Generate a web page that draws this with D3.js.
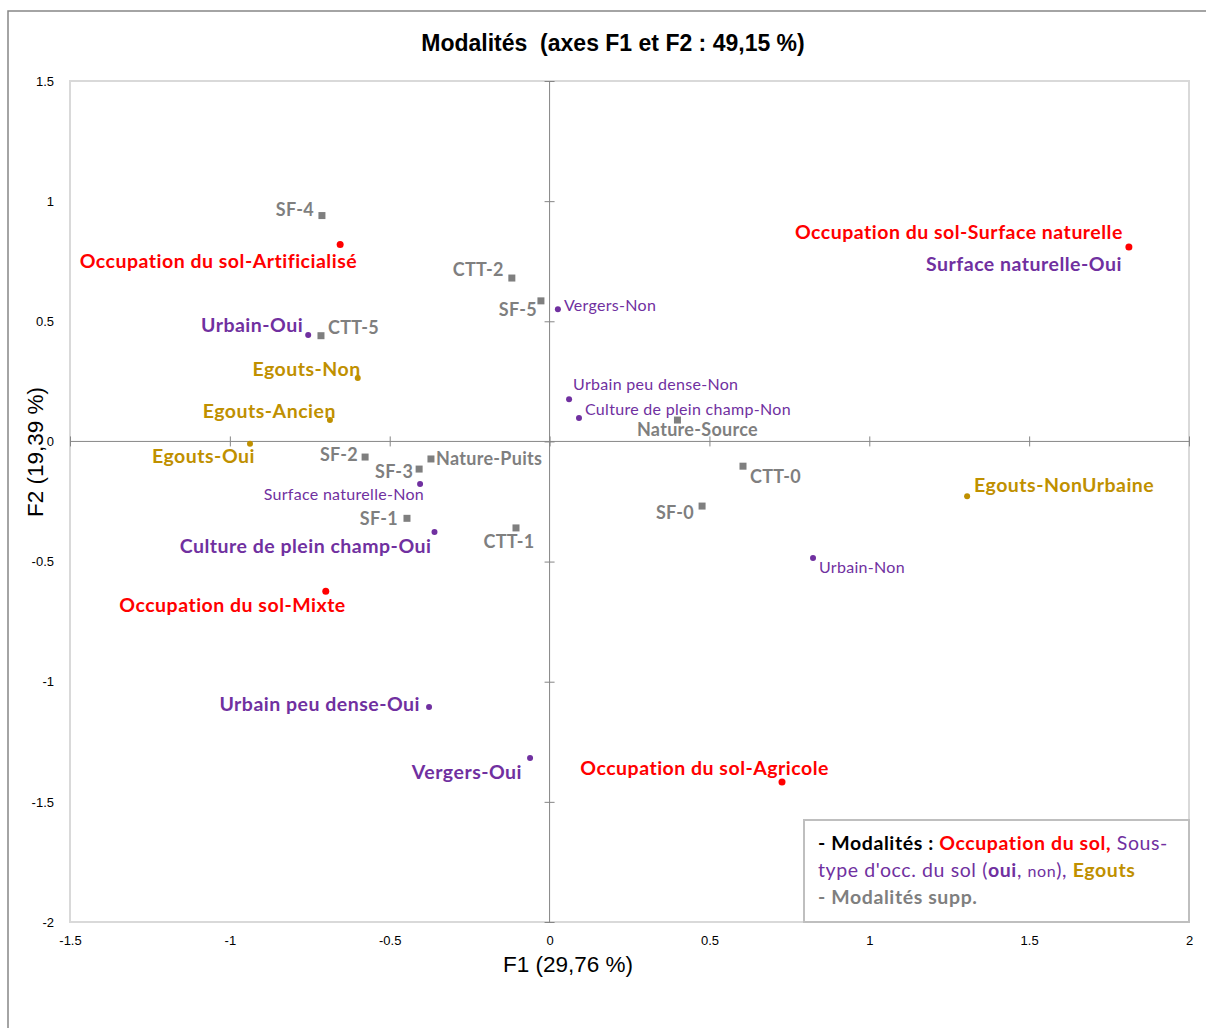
<!DOCTYPE html>
<html>
<head>
<meta charset="utf-8">
<script src="https://cdn.jsdelivr.net/npm/d3@7"></script>
<style>
  body { margin: 0; background: #fff; }
  svg { display: block; }
</style>
</head>
<body>
<svg id="chart" width="1206" height="1028"></svg>
<script>
// ---- data ----
const labels = [
  "SF-4", "Occupation du sol-Artificialisé", "CTT-2", "SF-5", "Vergers-Non",
  "Urbain-Oui", "CTT-5", "Egouts-Non", "Egouts-Ancien", "Egouts-Oui",
  "SF-2", "Nature-Puits", "SF-3", "Surface naturelle-Non", "SF-1",
  "Culture de plein champ-Oui", "CTT-1", "Occupation du sol-Mixte", "Urbain peu dense-Oui", "Vergers-Oui",
  "Occupation du sol-Agricole", "Urbain peu dense-Non", "Culture de plein champ-Non", "Nature-Source", "CTT-0",
  "SF-0", "Urbain-Non", "Egouts-NonUrbaine", "Occupation du sol-Surface naturelle", "Surface naturelle-Oui"
];
const f1 = [
  -0.712, -0.655, -0.118, -0.027, 0.026,
  -0.755, -0.715, -0.600, -0.687, -0.937,
  -0.577, -0.371, -0.408, -0.405, -0.446,
  -0.360, -0.105, -0.700, -0.377, -0.061,
  0.727, 0.061, 0.092, 0.400, 0.605,
  0.477, 0.824, 1.306, 1.812, 1.812
];
const f2 = [
  0.940, 0.820, 0.680, 0.585, 0.550,
  0.443, 0.440, 0.264, 0.089, -0.010,
  -0.065, -0.073, -0.115, -0.177, -0.320,
  -0.377, -0.360, -0.623, -1.105, -1.317,
  -1.417, 0.176, 0.097, 0.089, -0.103,
  -0.269, -0.485, -0.228, 0.809, 0.809
];
// group: occ = Occupation du sol, oui / non = sous-type, egout = Egouts, supp = modalités supp.
const groups = [
  "supp", "occ", "supp", "supp", "non",
  "oui", "supp", "egout", "egout", "egout",
  "supp", "supp", "supp", "non", "supp",
  "oui", "supp", "occ", "oui", "oui",
  "occ", "non", "non", "supp", "supp",
  "supp", "non", "egout", "occ", "oui"
];
// label placement relative to its point: [anchor, dx, dy]
const labelPlacement = [
  ["end", -8, -6], ["end", 17, 17], ["end", -8, -8], ["end", -4, 9], ["start", 6, -4],
  ["end", -5, -10], ["start", 7, -8], ["end", 3, -9], ["end", 6, -9], ["end", 5, 12],
  ["end", -7, -2], ["start", 5, 0], ["end", -6, 3], ["end", 4, 10], ["end", -9, 0],
  ["end", -3, 14], ["middle", -7, 14], ["end", 20, 14], ["end", -9, -3], ["end", -8, 14],
  ["end", 47, -14], ["start", 4, -15], ["start", 6, -9], ["middle", 20, 10], ["start", 7, 11],
  ["end", -8, 7], ["start", 6, 9], ["start", 7, -11], ["end", -6, -15], ["end", -7, 17]
];
const xTicks = [-1.5, -1, -0.5, 0, 0.5, 1, 1.5, 2];
const yTicks = [1.5, 1, 0.5, 0, -0.5, -1, -1.5, -2];
const titleText = "Modalités  (axes F1 et F2 : 49,15 %)";
const xTitle = "F1 (29,76 %)";
const yTitle = "F2 (19,39 %)";

// ---- styles ----
const colors = { occ: "#ff0000", oui: "#7030a0", non: "#7030a0", egout: "#bf9000", supp: "#7f7f7f" };
const labelFont = "Lato, 'Open Sans', sans-serif";
const labelStyle = {
  occ:   { size: 19.5, weight: "bold", ls: 0.5 },
  oui:   { size: 19.5, weight: "bold", ls: 0.5 },
  egout: { size: 19.5, weight: "bold", ls: 0.5 },
  supp:  { size: 18, weight: "bold", ls: 0.3 },
  non:   { size: 16, weight: "normal", ls: 0.3 }
};
const drawOrder = { supp: 0, non: 1, oui: 1, egout: 2, occ: 3 };

const svg = d3.select("#chart");
const plot = { left: 70, right: 1189, top: 81, bottom: 922 };
const x = d3.scaleLinear().domain([-1.5, 2]).range([plot.left, plot.right]);
const y = d3.scaleLinear().domain([-2, 1.5]).range([plot.bottom, plot.top]);

// outer chart frame
svg.append("rect").attr("x", 8).attr("y", 11).attr("width", 1400).attr("height", 1200)
  .attr("fill", "#fff").attr("stroke", "#868686").attr("stroke-width", 1.5);

// plot area border
svg.append("rect").attr("x", plot.left).attr("y", plot.top)
  .attr("width", plot.right - plot.left).attr("height", plot.bottom - plot.top)
  .attr("fill", "none").attr("stroke", "#d9d9d9").attr("stroke-width", 2);

// zero axes with crossing ticks
const xAxis = d3.axisBottom(x).tickValues(xTicks).tickSize(10).tickFormat("");
const gx = svg.append("g").attr("transform", `translate(0,${y(0) - 5})`).call(xAxis);
gx.select(".domain").remove();
gx.selectAll(".tick line").attr("stroke", "#868686");
svg.append("line").attr("x1", plot.left).attr("x2", plot.right).attr("y1", y(0)).attr("y2", y(0))
  .attr("stroke", "#868686").attr("stroke-width", 1);

const yAxis = d3.axisLeft(y).tickValues(yTicks).tickSize(10).tickFormat("");
const gy = svg.append("g").attr("transform", `translate(${x(0) + 5},0)`).call(yAxis);
gy.select(".domain").remove();
gy.selectAll(".tick line").attr("stroke", "#868686");
svg.append("line").attr("x1", x(0)).attr("x2", x(0)).attr("y1", plot.top).attr("y2", plot.bottom)
  .attr("stroke", "#868686").attr("stroke-width", 1);

// tick labels (low position)
const tickFont = "'Liberation Sans', Arial, sans-serif";
const xl = d3.axisBottom(x).tickValues(xTicks).tickSize(0).tickPadding(0).tickFormat(d => String(d));
const gxl = svg.append("g").attr("transform", `translate(0,${plot.bottom + 14})`).call(xl);
gxl.select(".domain").remove();
gxl.selectAll("text").attr("font-family", tickFont).attr("font-size", 13).attr("fill", "#000").attr("dy", "0.71em");
const yl = d3.axisLeft(y).tickValues(yTicks).tickSize(0).tickPadding(0).tickFormat(d => String(d));
const gyl = svg.append("g").attr("transform", `translate(54,0)`).call(yl);
gyl.select(".domain").remove();
gyl.selectAll("text").attr("font-family", tickFont).attr("font-size", 13).attr("fill", "#000");

// titles
svg.append("text").attr("x", 613).attr("y", 51).attr("text-anchor", "middle")
  .attr("font-family", tickFont).attr("font-weight", "bold").attr("font-size", 23)
  .attr("fill", "#000").attr("xml:space", "preserve").style("white-space", "pre").text(titleText);
svg.append("text").attr("x", 568).attr("y", 972).attr("text-anchor", "middle")
  .attr("font-family", tickFont).attr("font-size", 22.5).attr("fill", "#000").text(xTitle);
svg.append("text").attr("transform", `translate(43,452) rotate(-90)`).attr("text-anchor", "middle")
  .attr("font-family", tickFont).attr("font-size", 22.5).attr("fill", "#000").text(yTitle);

// data
const pts = labels.map((l, i) => ({ label: l, x: f1[i], y: f2[i], g: groups[i], p: labelPlacement[i] }));

// labels
svg.append("g").selectAll("text").data(pts).join("text")
  .attr("x", d => x(d.x) + d.p[1])
  .attr("y", d => y(d.y) + d.p[2])
  .attr("dy", "0.35em")
  .attr("text-anchor", d => d.p[0])
  .attr("font-family", labelFont)
  .attr("font-weight", d => labelStyle[d.g].weight)
  .attr("font-size", d => labelStyle[d.g].size)
  .attr("letter-spacing", d => labelStyle[d.g].ls)
  .attr("fill", d => colors[d.g])
  .text(d => d.label);

// markers
const markers = svg.append("g");
markers.selectAll("rect").data(pts.filter(d => d.g === "supp")).join("rect")
  .attr("x", d => x(d.x) - 3.5).attr("y", d => y(d.y) - 3.5)
  .attr("width", 7).attr("height", 7)
  .attr("fill", colors.supp);
markers.selectAll("circle")
  .data(pts.filter(d => d.g !== "supp").sort((a, b) => drawOrder[a.g] - drawOrder[b.g]))
  .join("circle")
  .attr("cx", d => x(d.x)).attr("cy", d => y(d.y))
  .attr("r", d => d.g === "occ" ? 3.5 : 3)
  .attr("fill", d => colors[d.g]);

// legend box
const lg = svg.append("g");
lg.append("rect").attr("x", 804).attr("y", 820).attr("width", 385).attr("height", 102)
  .attr("fill", "#fff").attr("stroke", "#bfbfbf").attr("stroke-width", 2);
const lfs = 19.5, lls = 0.6;
const t1 = lg.append("text").attr("x", 818).attr("y", 850).attr("font-family", labelFont).attr("font-size", lfs).attr("letter-spacing", lls).attr("xml:space", "preserve");
t1.append("tspan").attr("font-weight", "bold").attr("fill", "#000").text("- Modalités : ");
t1.append("tspan").attr("font-weight", "bold").attr("fill", colors.occ).text("Occupation du sol,");
t1.append("tspan").attr("fill", colors.oui).text(" Sous-");
const t2 = lg.append("text").attr("x", 818).attr("y", 877).attr("font-family", labelFont).attr("font-size", lfs).attr("letter-spacing", lls).attr("xml:space", "preserve");
t2.append("tspan").attr("fill", colors.oui).text("type d'occ. du sol (");
t2.append("tspan").attr("fill", colors.oui).attr("font-weight", "bold").text("oui");
t2.append("tspan").attr("fill", colors.oui).text(", ");
t2.append("tspan").attr("fill", colors.oui).attr("font-size", 16).text("non");
t2.append("tspan").attr("fill", colors.oui).text("), ");
t2.append("tspan").attr("fill", colors.egout).attr("font-weight", "bold").text("Egouts");
const t3 = lg.append("text").attr("x", 818).attr("y", 904).attr("font-family", labelFont).attr("font-size", lfs).attr("letter-spacing", lls);
t3.append("tspan").attr("font-weight", "bold").attr("fill", colors.supp).text("- Modalités supp.");
</script>
</body>
</html>
